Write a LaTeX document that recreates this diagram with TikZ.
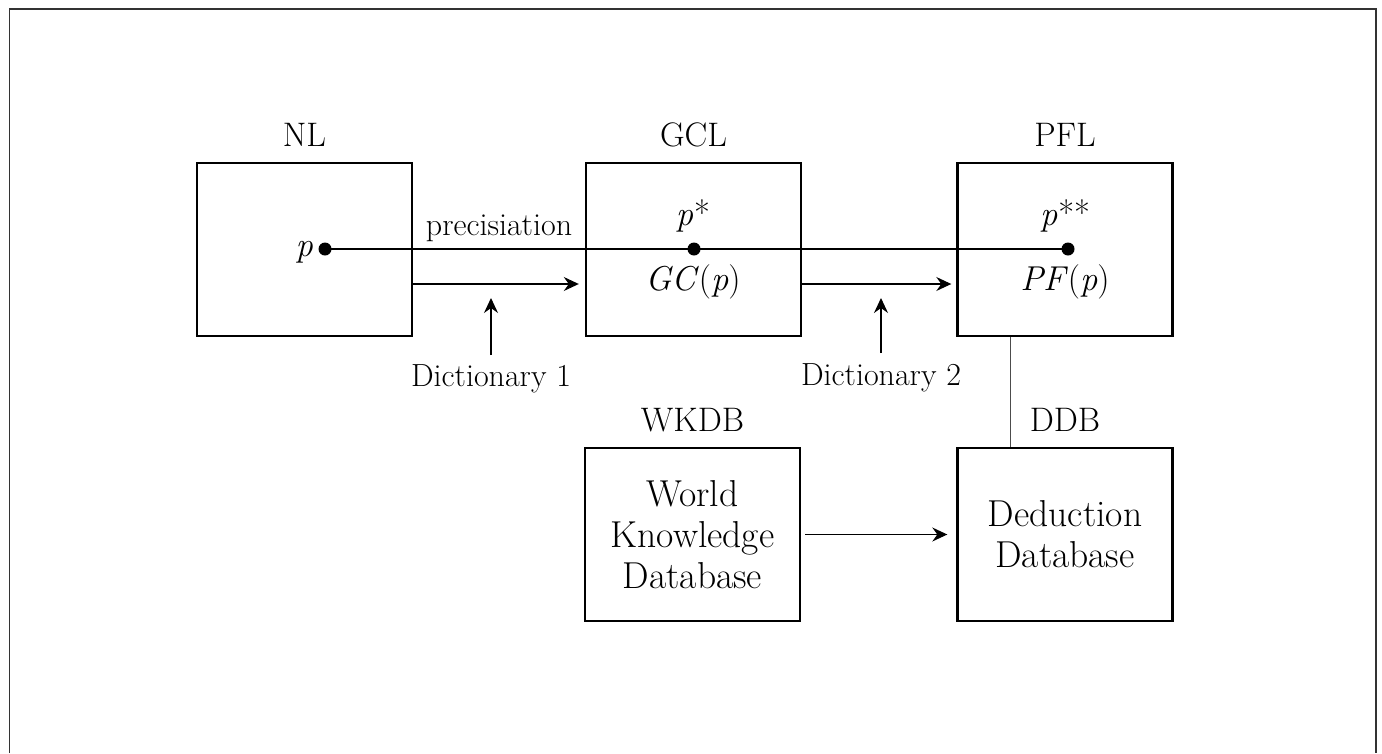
\documentclass[tikz,border=0pt]{standalone}
\usepackage{fontspec}
\usetikzlibrary{arrows.meta}
\tikzset{
  box/.style={draw, line width=2.4pt, minimum width=215pt, minimum height=173pt, inner sep=0pt, align=center, font=\fontsize{37.5}{41}\selectfont},
  lab/.style={anchor=base, font=\fontsize{34}{40}\selectfont},
  small/.style={anchor=base, font=\fontsize{32}{38}\selectfont},
  mth/.style={anchor=base, font=\fontsize{34.5}{41}\selectfont},
  dot/.style={circle, fill, inner sep=0pt, minimum size=13pt},
  arr/.style={line width=1.1pt, -{Stealth[length=15pt,width=14pt,inset=5pt]}},
  conn/.style={line width=1.1pt},
}
\begin{document}
\begin{tikzpicture}[x=1pt,y=-1pt]
\useasboundingbox (0,0) rectangle (1382,753);
\draw[line width=1.6pt, black!80] (9.5,753) -- (9.5,9) -- (1376,9) -- (1376,753);

% boxes
\node[box] (nl) at (304.5,249.5) {};
\node[box] (gcl) at (693.5,249.5) {};
\node[box] (pfl) at (1065,249.5) {};
\node[box] (wkdb) at (692.5,534.5) {World\\Knowledge\\Database};
\node[box] (ddb) at (1065,534.5) {Deduction\\Database};

% labels
\node[lab] (nllab) at ([yshift=15pt]nl.north) {NL};
\node[lab] (gcllab) at ([yshift=15pt]gcl.north) {GCL};
\node[lab] (pfllab) at ([yshift=15pt]pfl.north) {PFL};
\node[lab] (wkdblab) at ([yshift=15pt]wkdb.north) {WKDB};
\node[lab] (ddblab) at ([yshift=15pt]ddb.north) {DDB};

% dots and line
\node[dot] (pd) at (325,249) {};
\node[dot] (gd) at (694,249) {};
\node[dot] (fd) at (1068,249) {};
\draw[conn] (pd.center) -- (gd.center) -- (fd.center);

% texts
\node[mth, anchor=base east, inner sep=0pt] (ptext) at (313,256) {\textit{p}};
\node[mth] (pstar) at (693,225) {\textit{p}\kern1pt*};
\node[mth] (gcp) at (693,290) {\textit{GC}\/(\textit{p}\/)};
\node[mth] (pss) at (1065,225) {\textit{p}\kern1pt**};
\node[mth] (pfp) at (1065,290) {\textit{PF}\/(\textit{p}\/)};
\node[small] (prec) at (499,235) {precisiation};
\node[small] (d1) at (491,386) {Dictionary 1};
\node[small] (d2) at (881,385) {Dictionary 2};

% arrows
\draw[arr, shorten >=6pt] ([yshift=-34.5pt]nl.east) -- ([yshift=-34.5pt]gcl.west);
\draw[arr, shorten >=5pt] ([yshift=-34.5pt]gcl.east) -- ([yshift=-34.5pt]pfl.west);
\coordinate (d1t) at ([yshift=88pt]d1.base);
\coordinate (d2t) at ([yshift=87pt]d2.base);
\draw[arr] ([yshift=31pt]d1.base) -- (d1t);
\draw[arr] ([yshift=32pt]d2.base) -- (d2t);
\draw[line width=1pt, black!70] ([xshift=-55pt]pfl.south) -- ([xshift=-55pt]ddb.north);
\draw[arr, shorten <=4pt, shorten >=9pt] (wkdb.east) -- (ddb.west);
\end{tikzpicture}
\end{document}
